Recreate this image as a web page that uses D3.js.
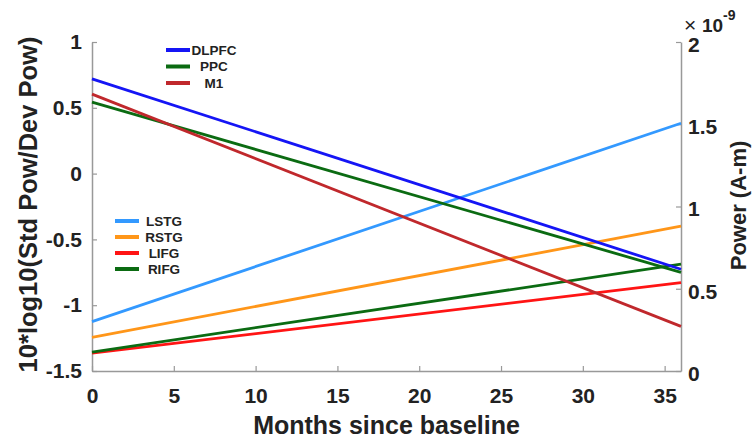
<!DOCTYPE html>
<html>
<head>
<meta charset="utf-8">
<script src="https://cdn.jsdelivr.net/npm/d3@7"></script>
<style>
  body { margin: 0; background: #fff; }
  svg text { font-family: "Liberation Sans", Arial, sans-serif; font-weight: bold; fill: #222; }
</style>
</head>
<body>
<div id="chart"></div>
<script>
// months on the x axis (lines are straight fits, so start and end)
var months = [0, 36];

// left axis: 10*log10(Std Pow/Dev Pow)
var dlpfc = [0.72, -0.727];
var ppc = [0.543, -0.75];
var m1 = [0.604, -1.161];

// right axis: power in A-m
var lstg = [0.30e-9, 1.506e-9];
var rstg = [0.205e-9, 0.88e-9];
var lifg = [0.108e-9, 0.537e-9];
var rifg = [0.115e-9, 0.649e-9];

var leftTicks = [-1.5, -1, -0.5, 0, 0.5, 1];
var rightTicks = [0, 0.5e-9, 1e-9, 1.5e-9, 2e-9];
var xTicks = [0, 5, 10, 15, 20, 25, 30, 35];

var W = 754, H = 443;
var margin = { top: 42, right: 73, bottom: 72, left: 92 };
var width = W - margin.left - margin.right;
var height = H - margin.top - margin.bottom;

var svg = d3.select("#chart")
    .append("svg")
        .attr("width", W)
        .attr("height", H)
    .append("g")
        .attr("transform", "translate(" + margin.left + "," + margin.top + ")");

var xScale = d3.scaleLinear().domain([0, 36]).range([0, width]);
var yLeft = d3.scaleLinear().domain([-1.5, 1]).range([height, 0]);
var yRight = d3.scaleLinear().domain([0, 2e-9]).range([height, 0]);

// axes (MATLAB style, ticks inside)
var xAxis = svg.append("g")
    .attr("transform", "translate(0," + height + ")")
    .call(d3.axisBottom(xScale).tickValues(xTicks).tickSizeInner(-5).tickSizeOuter(0).tickPadding(17));

var lAxis = svg.append("g")
    .call(d3.axisLeft(yLeft).tickValues(leftTicks).tickSizeInner(-5).tickSizeOuter(0).tickPadding(10)
        .tickFormat(function (d) { return String(d); }));

var rAxis = svg.append("g")
    .attr("transform", "translate(" + width + ",0)")
    .call(d3.axisRight(yRight).tickValues(rightTicks).tickSizeInner(-5).tickSizeOuter(0).tickPadding(7)
        .tickFormat(function (d) { return String(+(d / 1e-9).toFixed(2)); }));

[xAxis, lAxis, rAxis].forEach(function (a) {
    a.select(".domain").attr("stroke", "#999").attr("stroke-width", 1.5);
    a.selectAll(".tick line").attr("stroke", "#999").attr("stroke-width", 1.2);
    a.selectAll(".tick text")
        .style("font-size", "21px")
        .style("font-family", "'Liberation Sans', Arial, sans-serif")
        .style("font-weight", "bold")
        .attr("fill", "#222");
});
rAxis.selectAll(".tick text").attr("dy", "0.45em");

// exponent label of right axis
svg.append("text")
    .attr("x", width + 3)
    .attr("y", -10)
    .style("font-size", "21px")
    .style("font-weight", "normal")
    .text("\u00d7");
svg.append("text")
    .attr("x", width + 21)
    .attr("y", -10)
    .style("font-size", "19px")
    .text("10");
svg.append("text")
    .attr("x", width + 42)
    .attr("y", -22)
    .style("font-size", "14px")
    .text("-9");

// axis titles
svg.append("text")
    .attr("x", width / 2)
    .attr("y", height + 63)
    .style("text-anchor", "middle")
    .style("font-size", "25px")
    .text("Months since baseline");

svg.append("text")
    .attr("transform", "rotate(-90)")
    .attr("x", -height / 2 + 2)
    .attr("y", -margin.left + 37)
    .style("text-anchor", "middle")
    .style("font-size", "25.5px")
    .text("10*log10(Std Pow/Dev Pow)");

svg.append("text")
    .attr("transform", "rotate(-90)")
    .attr("x", -height / 2 + 1)
    .attr("y", width + 65)
    .style("text-anchor", "middle")
    .style("font-size", "22px")
    .text("Power (A-m)");

// series
var leftSeries = [
    { name: "DLPFC", vals: dlpfc, color: "#1515f5" },
    { name: "PPC", vals: ppc, color: "#0b6b12" },
    { name: "M1", vals: m1, color: "#c0282c" }
];
var rightSeries = [
    { name: "LSTG", vals: lstg, color: "#3399ff" },
    { name: "RSTG", vals: rstg, color: "#ff9619" },
    { name: "LIFG", vals: lifg, color: "#ff1414" },
    { name: "RIFG", vals: rifg, color: "#0b6b12" }
];

function drawSeries(list, yScale) {
    var line = d3.line()
        .x(function (d, i) { return xScale(months[i]); })
        .y(function (d) { return yScale(d); });
    list.forEach(function (s) {
        svg.append("path")
            .datum(s.vals)
            .attr("d", line)
            .attr("fill", "none")
            .attr("stroke", s.color)
            .attr("stroke-width", 2.8);
    });
}
drawSeries(rightSeries, yRight);
drawSeries(leftSeries, yLeft);

// legends
function drawLegend(list, x0, y0, step, textCenter) {
    list.forEach(function (s, i) {
        var y = y0 + i * step;
        svg.append("line")
            .attr("x1", x0).attr("x2", x0 + 24)
            .attr("y1", y).attr("y2", y)
            .attr("stroke", s.color)
            .attr("stroke-width", 4);
        svg.append("text")
            .attr("x", textCenter)
            .attr("y", y)
            .attr("dy", "0.36em")
            .style("text-anchor", "middle")
            .style("font-size", "13.5px")
            .text(s.name);
    });
}
drawLegend(leftSeries, 166 - margin.left, 50 - margin.top, 16.5, 214 - margin.left);
drawLegend(rightSeries, 115 - margin.left, 221 - margin.top, 16, 164 - margin.left);
</script>
</body>
</html>
